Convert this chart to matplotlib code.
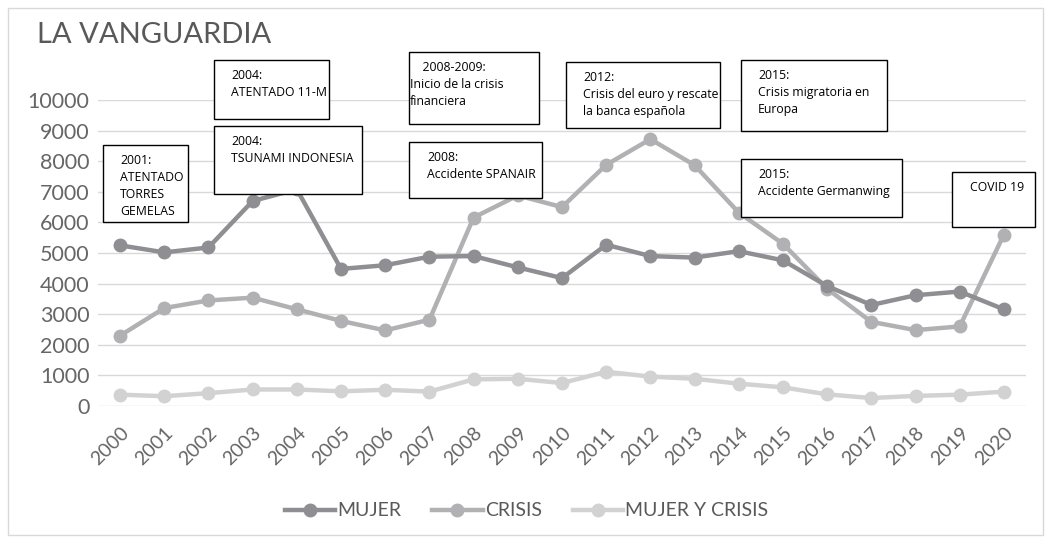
import numpy as np
import matplotlib.pyplot as plt
from matplotlib.patches import Rectangle

years = [str(y) for y in range(2000, 2021)]
mujer = [5250, 5020, 5180, 6700, 7080, 4480, 4600, 4880, 4900, 4530, 4180,
         5270, 4900, 4850, 5060, 4760, 3920, 3300, 3620, 3740, 3160]
crisis = [2300, 3200, 3450, 3540, 3160, 2780, 2470, 2820, 6160, 6880, 6500,
          7880, 8720, 7870, 6320, 5300, 3830, 2750, 2480, 2600, 5600]
mujer_crisis = [370, 320, 420, 540, 540, 480, 530, 470, 870, 890, 750,
                1120, 960, 890, 730, 610, 380, 260, 330, 370, 470]

# event boxes: (left, top, right, bottom) in pixels, text, left padding
events = [
    ((103, 145, 188, 222), "2001:\nATENTADO\nTORRES\nGEMELAS", 17),
    ((214, 60, 329, 119), "2004:\nATENTADO 11-M", 17),
    ((214, 126, 362, 194), "2004:\nTSUNAMI INDONESIA", 17),
    ((409, 52, 539, 124), "    2008-2009:\nInicio de la crisis\nfinanciera", 1),
    ((409, 142, 542, 198), "2008:\nAccidente SPANAIR", 18),
    ((566, 62, 720, 128), "2012:\nCrisis del euro y rescate\nla banca española", 17),
    ((741, 60, 887, 131), "2015:\nCrisis migratoria en\nEuropa", 17),
    ((741, 159, 902, 217), "2015:\nAccidente Germanwing", 17),
    ((952, 172, 1035, 227), "COVID 19", 18),
]

W, H = 1053, 540
plt.rcParams['font.family'] = ['Lato', 'DejaVu Sans']
fig = plt.figure(figsize=(W / 100, H / 100), dpi=100)
ax = fig.add_axes([98 / W, 1 - 406 / H, (1026 - 98) / W, (406 - 100) / H])

x = np.arange(len(years))
grey = '#595959'
ax.plot(x, mujer, color='#8f8f93', lw=3.2, marker='o', ms=9, label='MUJER', zorder=4)
ax.plot(x, crisis, color='#b1b1b4', lw=3.2, marker='o', ms=9, label='CRISIS', zorder=3)
ax.plot(x, mujer_crisis, color='#d2d2d3', lw=3.2, marker='o', ms=9, label='MUJER Y CRISIS', zorder=2)

ax.set_xlim(-0.5, len(years) - 0.5)
ax.set_ylim(0, 10000)
ax.set_yticks(range(0, 10001, 1000))
ax.set_xticks(x)
ax.set_xticklabels(years, rotation=45, ha='right', rotation_mode='anchor')
ax.tick_params(axis='both', length=0, colors='#666666')
ax.tick_params(axis='x', pad=13, labelsize=14)
ax.tick_params(axis='y', pad=6, labelsize=15.5)
ax.grid(axis='y', color='#d9d9d9', lw=1)
ax.set_axisbelow(True)
for s in ax.spines.values():
    s.set_visible(False)

fig.text(37 / W, 1 - 35 / H, "LA VANGUARDIA", fontsize=21, color=grey, va='center')

leg = fig.legend(loc='center', bbox_to_anchor=(0.5, 1 - 511 / H), ncol=3, frameon=False,
                 fontsize=14, handlelength=2.6, columnspacing=1.6, handletextpad=0.1)
for t in leg.get_texts():
    t.set_color(grey)

for (l, t, r, b), txt, pad in events:
    fig.patches.append(Rectangle((l / W, 1 - b / H), (r - l) / W, (b - t) / H,
                                 transform=fig.transFigure, fill=True, fc='white',
                                 ec='black', lw=1, zorder=5))
    fig.text((l + pad) / W, 1 - (t + 9) / H, txt, fontsize=8.8, va='top', ha='left',
             linespacing=1.4, zorder=6, family=['Open Sans', 'DejaVu Sans'])

fig.patches.append(Rectangle((8 / W, 5 / H), (1043 - 8) / W, (532 - 5) / H,
                             transform=fig.transFigure, fill=False, ec='#d9d9d9', lw=1))

fig.savefig('out.png', dpi=100)
